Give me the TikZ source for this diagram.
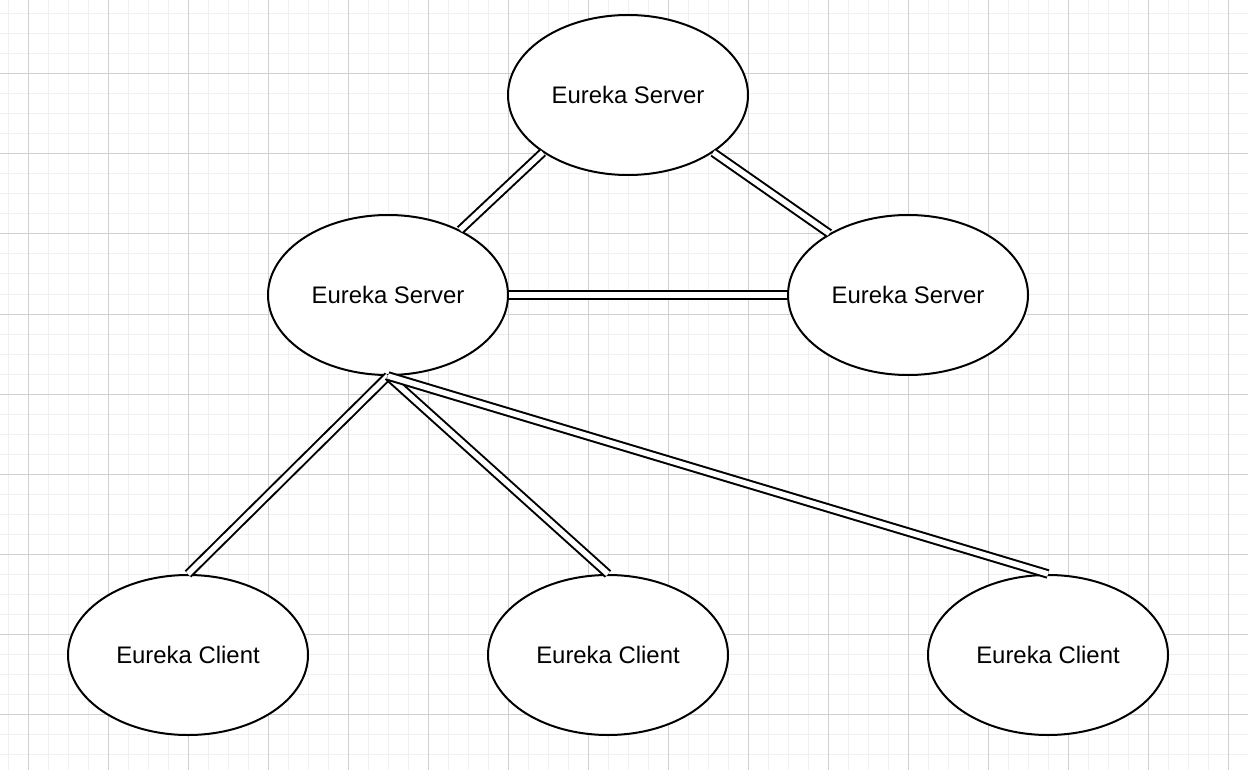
\documentclass[tikz,border=0pt]{standalone}
\usepackage{fontspec}
\setmainfont{Liberation Sans}
\usetikzlibrary{shapes.geometric}
\definecolor{gridminor}{HTML}{F0F0F0}
\definecolor{gridmajor}{HTML}{D0D0D0}
\begin{document}
\begin{tikzpicture}[x=1pt,y=-1pt,
  eu/.style={ellipse,draw=black,line width=2pt,fill=white,minimum width=240pt,minimum height=160pt,inner sep=0pt,font=\fontsize{23.9}{28}\selectfont},
  link/.style={draw=black,line width=2pt,double=white,double distance=5.5pt},
  minorgrid/.style={draw=gridminor,line width=1pt},
  majorgrid/.style={draw=gridmajor,line width=1pt}]
\useasboundingbox[fill=white] (0,0) rectangle (1248,770);
\foreach \x in {8,28,...,1248} \draw[minorgrid] (\x,0) -- (\x,770);
\foreach \y in {14,34,...,770} \draw[minorgrid] (0,\y) -- (1248,\y);
\foreach \x in {28,108,...,1248} \draw[majorgrid] (\x,0) -- (\x,770);
\foreach \y in {74,154,...,770} \draw[majorgrid] (0,\y) -- (1248,\y);

\node[eu] (top) at (628,95) {Eureka Server};
\node[eu] (ls) at (388,295) {Eureka Server};
\node[eu] (rs) at (908,295) {Eureka Server};
\node[eu] (c1) at (188,655) {Eureka Client};
\node[eu] (c2) at (608,655) {Eureka Client};
\node[eu] (c3) at (1048,655) {Eureka Client};

\draw[link] (top.214.5) -- (ls.42);
\draw[link] (top.326) -- (rs.142.9);
\draw[link] (ls.east) -- (rs.west);
\draw[link] (ls.south) -- (c1.north);
\draw[link] (ls.south) -- (c2.north);
\draw[link] (ls.south) -- (c3.north);
\end{tikzpicture}
\end{document}
